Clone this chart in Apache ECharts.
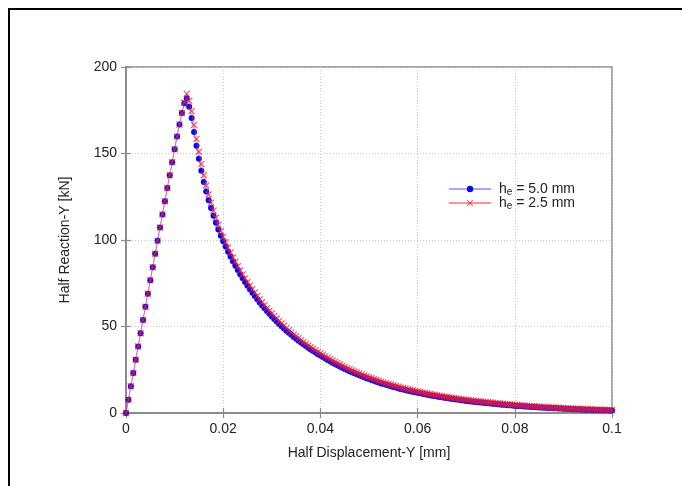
<!DOCTYPE html>
<html>
<head>
<meta charset="utf-8">
<script src="https://cdn.jsdelivr.net/npm/echarts@6/dist/echarts.min.js"></script>
<style>
html,body{margin:0;padding:0;background:#fff;}
#chart{width:682px;height:486px;}
</style>
</head>
<body>
<div id="chart"></div>
<script>
// Displacement sample positions [mm]
const displacement = [
0,0.0005,0.001,0.0015,0.002,0.0025,0.003,0.0035,0.004,0.0045,
0.005,0.0055,0.006,0.0065,0.007,0.0075,0.008,0.0085,0.009,0.0095,
0.01,0.0105,0.011,0.0115,0.012,0.0125,0.013,0.0135,0.014,0.0145,
0.015,0.0155,0.016,0.0165,0.017,0.0175,0.018,0.0185,0.019,0.0195,
0.02,0.0205,0.021,0.0215,0.022,0.0225,0.023,0.0235,0.024,0.0245,
0.025,0.0255,0.026,0.0265,0.027,0.0275,0.028,0.0285,0.029,0.0295,
0.03,0.0305,0.031,0.0315,0.032,0.0325,0.033,0.0335,0.034,0.0345,
0.035,0.0355,0.036,0.0365,0.037,0.0375,0.038,0.0385,0.039,0.0395,
0.04,0.0405,0.041,0.0415,0.042,0.0425,0.043,0.0435,0.044,0.0445,
0.045,0.0455,0.046,0.0465,0.047,0.0475,0.048,0.0485,0.049,0.0495,
0.05,0.0505,0.051,0.0515,0.052,0.0525,0.053,0.0535,0.054,0.0545,
0.055,0.0555,0.056,0.0565,0.057,0.0575,0.058,0.0585,0.059,0.0595,
0.06,0.0605,0.061,0.0615,0.062,0.0625,0.063,0.0635,0.064,0.0645,
0.065,0.0655,0.066,0.0665,0.067,0.0675,0.068,0.0685,0.069,0.0695,
0.07,0.0705,0.071,0.0715,0.072,0.0725,0.073,0.0735,0.074,0.0745,
0.075,0.0755,0.076,0.0765,0.077,0.0775,0.078,0.0785,0.079,0.0795,
0.08,0.0805,0.081,0.0815,0.082,0.0825,0.083,0.0835,0.084,0.0845,
0.085,0.0855,0.086,0.0865,0.087,0.0875,0.088,0.0885,0.089,0.0895,
0.09,0.0905,0.091,0.0915,0.092,0.0925,0.093,0.0935,0.094,0.0945,
0.095,0.0955,0.096,0.0965,0.097,0.0975,0.098,0.0985,0.099,0.0995,
0.1
];

// h_e = 5.0 mm reaction [kN]
const reaction50 = [
0,7.7,15.4,23.1,30.8,38.4,46.1,53.7,61.4,69.0,
76.7,84.3,92.0,99.6,107.2,114.8,122.4,130.0,137.5,145.0,
152.5,159.8,166.8,173.4,179.0,
182.0,177.0,170.5,162.5,154.5,147.0,140.0,133.5,128.0,123.0,
118.5,114.0,110.0,106.0,102.5,99.3,96.2,93.2,90.4,87.7,
85.1,82.6,80.2,77.9,75.7,73.6,71.5,69.5,67.6,65.7,
63.9,62.2,60.5,58.9,57.3,55.8,54.3,52.9,51.5,50.2,
48.9,47.6,46.4,45.2,44.0,42.9,41.8,40.7,39.7,38.7,
37.7,36.7,35.8,34.9,34.0,33.2,32.4,31.5,30.7,29.9,
29.1,28.3,27.6,26.9,26.2,25.5,24.8,24.2,23.6,23.0,
22.4,21.8,21.2,20.6,20.1,19.6,19.1,18.6,18.1,17.6,
17.1,16.7,16.3,15.9,15.5,15.1,14.7,14.3,13.9,13.6,
13.3,12.9,12.6,12.3,12.0,11.7,11.4,11.1,10.8,10.5,
10.3,10.0,9.8,9.5,9.3,9.1,8.8,8.6,8.4,8.2,
8.0,7.8,7.6,7.4,7.2,7.0,6.85,6.7,6.55,6.4,
6.25,6.1,5.95,5.8,5.65,5.5,5.35,5.2,5.1,4.95,
4.8,4.7,4.55,4.45,4.35,4.2,4.1,4.0,3.9,3.8,
3.7,3.6,3.5,3.4,3.32,3.24,3.16,3.08,3.0,2.92,
2.84,2.76,2.68,2.61,2.54,2.47,2.4,2.34,2.28,2.22,
2.16,2.1,2.04,1.98,1.93,1.88,1.83,1.78,1.73,1.68,
1.64,1.6,1.56,1.52,1.48,1.44
];

// h_e = 2.5 mm reaction [kN]
const reaction25 = [
0,7.7,15.4,23.1,30.8,38.4,46.1,53.7,61.4,69.0,
76.7,84.3,92.0,99.6,107.2,114.8,122.4,130.0,137.5,145.0,
152.5,159.8,166.8,173.4,179.5,
184.5,180.5,174.5,166.5,158.5,151.0,144.0,137.5,131.5,126.3,
121.6,117.0,112.9,108.8,105.2,101.9,98.7,95.6,92.8,90.0,
87.4,84.8,82.4,80.0,77.8,75.7,73.6,71.5,69.6,67.7,
65.8,64.0,62.3,60.6,59.0,57.5,56.0,54.5,53.1,51.8,
50.4,49.1,47.9,46.6,45.4,44.3,43.2,42.1,41.0,40.0,
39.0,38.0,37.1,36.2,35.3,34.5,33.6,32.7,31.9,31.1,
30.3,29.5,28.8,28.0,27.3,26.6,25.9,25.3,24.6,24.0,
23.4,22.8,22.2,21.6,21.1,20.6,20.1,19.6,19.1,18.6,
18.1,17.7,17.2,16.8,16.4,16.0,15.6,15.2,14.8,14.4,
14.1,13.7,13.4,13.1,12.8,12.5,12.2,11.9,11.6,11.3,
11.0,10.7,10.5,10.2,10.0,9.7,9.5,9.3,9.0,8.8,
8.6,8.4,8.2,8.0,7.8,7.6,7.45,7.3,7.1,6.95,
6.8,6.65,6.5,6.35,6.2,6.05,5.9,5.75,5.6,5.45,
5.3,5.2,5.05,4.95,4.8,4.7,4.6,4.45,4.35,4.25,
4.15,4.05,3.95,3.85,3.75,3.65,3.56,3.47,3.38,3.3,
3.22,3.14,3.06,2.98,2.9,2.83,2.76,2.69,2.62,2.55,
2.48,2.42,2.36,2.3,2.24,2.18,2.12,2.07,2.02,1.97,
1.92,1.87,1.82,1.78,1.74,1.7
];

const seriesNames = ['h{sub|e} = 5.0 mm', 'h{sub|e} = 2.5 mm'];
const xTicks = [0, 0.02, 0.04, 0.06, 0.08, 0.1];
const yTicks = [0, 50, 100, 150, 200];

const font = 'Liberation Sans, Arial, Helvetica, sans-serif';
const pair = (ys) => displacement.map((x, i) => [x, ys[i]]);
const crossPath = 'path://M0,1.3L1.3,0L5,3.7L8.7,0L10,1.3L6.3,5L10,8.7L8.7,10L5,6.3L1.3,10L0,8.7L3.7,5Z';

const chart = echarts.init(document.getElementById('chart'), null, {renderer: 'canvas'});
const axisCommon = {
  axisLine: {show: true, lineStyle: {color: '#8a8a8a', width: 1.5}},
  axisTick: {show: true, inside: true, length: 5, lineStyle: {color: '#8a8a8a', width: 1.2}},
  splitLine: {show: true, lineStyle: {color: '#c8c8c8', type: [1, 2], width: 1}}
};
chart.setOption({
  animation: false,
  backgroundColor: '#ffffff',
  textStyle: {fontFamily: font},
  grid: {left: 126, top: 67, width: 486, height: 346, show: true, borderColor: '#8a8a8a', borderWidth: 1.5, backgroundColor: 'transparent'},
  xAxis: [{
    type: 'value', min: 0, max: 0.1, interval: 0.02, position: 'bottom',
    name: 'Half Displacement-Y [mm]', nameLocation: 'middle', nameGap: 33,
    nameTextStyle: {fontSize: 14, color: '#222', fontFamily: font},
    axisLabel: {fontSize: 14, color: '#222', margin: 9, fontFamily: font,
      formatter: v => { const t = xTicks.find(k => Math.abs(k - v) < 1e-9); return String(t !== undefined ? t : v); }},
    ...axisCommon
  }, {
    type: 'value', min: 0, max: 0.1, interval: 0.02, position: 'top',
    axisLabel: {show: false},
    axisLine: {show: true, lineStyle: {color: '#8a8a8a', width: 1.5}},
    axisTick: {show: true, inside: true, length: 5, lineStyle: {color: '#8a8a8a', width: 1.2}},
    splitLine: {show: false}
  }],
  yAxis: [{
    type: 'value', min: 0, max: 200, interval: 50, position: 'left',
    name: 'Half Reaction-Y [kN]', nameLocation: 'middle', nameGap: 54, nameRotate: 90,
    nameTextStyle: {fontSize: 14, color: '#222', fontFamily: font},
    axisLabel: {fontSize: 14, color: '#222', margin: 9, fontFamily: font},
    ...axisCommon
  }, {
    type: 'value', min: 0, max: 200, interval: 50, position: 'right',
    axisLabel: {show: false},
    axisLine: {show: true, lineStyle: {color: '#8a8a8a', width: 1.5}},
    axisTick: {show: true, inside: true, length: 5, lineStyle: {color: '#8a8a8a', width: 1.2}},
    splitLine: {show: false}
  }],
  legend: {
    left: 448, top: 182, orient: 'vertical', itemGap: -1,
    itemWidth: 42, itemHeight: 8, padding: 0,
    textStyle: {fontSize: 14, color: '#222', fontFamily: font, lineHeight: 14, padding: [0, 0, 0, 3],
      rich: {sub: {fontSize: 10, color: '#222', fontFamily: font, padding: [6, 0, 0, 0]}}},
    data: seriesNames
  },
  series: [{
    name: seriesNames[0], type: 'line', data: pair(reaction50),
    symbol: 'circle', symbolSize: 6, showSymbol: true,
    lineStyle: {color: 'rgba(60,60,255,0.45)', width: 1},
    itemStyle: {color: '#0808ee'},
    z: 2
  }, {
    name: seriesNames[1], type: 'line', data: pair(reaction25),
    symbol: crossPath, symbolSize: 7, showSymbol: true,
    lineStyle: {color: 'rgba(255,60,60,0.55)', width: 1},
    itemStyle: {color: 'rgba(235,30,60,0.7)'},
    z: 3
  }],
  graphic: [{
    type: 'polyline', silent: true,
    shape: {points: [[9, 486], [9, 9], [682, 9]]},
    style: {stroke: '#000', lineWidth: 2, fill: null}
  }]
});
</script>
</body>
</html>
